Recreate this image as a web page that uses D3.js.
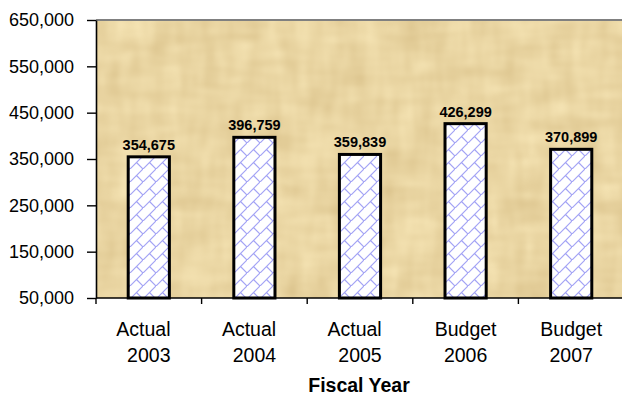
<!DOCTYPE html>
<html>
<head>
<meta charset="utf-8">
<script src="https://cdn.jsdelivr.net/npm/d3@7"></script>
<style>
  html, body { margin: 0; padding: 0; background: #fff; overflow: hidden; }
  svg { display: block; font-family: "Liberation Sans", Arial, sans-serif; }
</style>
</head>
<body>
<svg id="chart" width="622" height="397"></svg>
<script>
// Fiscal-year totals
const kinds  = ["Actual", "Actual", "Actual", "Budget", "Budget"];
const years  = ["2003", "2004", "2005", "2006", "2007"];
const values = [354675, 396759, 359839, 426299, 370899];
const yTicks = [50000, 150000, 250000, 350000, 450000, 550000, 650000];
const axisTitle = "Fiscal Year";

const categories = years.map((yr, i) => kinds[i] + " " + yr);

const W = 622, H = 397;
const plot = { left: 96, right: 624, top: 20, bottom: 298 };

const svg = d3.select("#chart");
const defs = svg.append("defs");

// Parchment texture for the plot area
const paper = defs.append("filter")
  .attr("id", "papyrus")
  .attr("x", 0).attr("y", 0).attr("width", 1).attr("height", 1)
  .attr("color-interpolation-filters", "sRGB");
paper.append("feTurbulence")
  .attr("type", "fractalNoise").attr("baseFrequency", "0.06 0.018")
  .attr("numOctaves", 2).attr("seed", 7).attr("result", "n1");
paper.append("feTurbulence")
  .attr("type", "fractalNoise").attr("baseFrequency", "0.018 0.06")
  .attr("numOctaves", 2).attr("seed", 13).attr("result", "n2");
paper.append("feComposite")
  .attr("in", "n1").attr("in2", "n2").attr("operator", "arithmetic")
  .attr("k1", 0).attr("k2", 0.5).attr("k3", 0.5).attr("k4", 0).attr("result", "n");
paper.append("feColorMatrix")
  .attr("in", "n").attr("type", "matrix")
  .attr("values",
    "0.16 0 0 0 0.835 " +
    "0.20 0 0 0 0.735 " +
    "0.24 0 0 0 0.515 " +
    "0 0 0 0 1");

// Diagonal brick fill for the bars
const brick = defs.append("pattern")
  .attr("id", "brick")
  .attr("patternUnits", "userSpaceOnUse")
  .attr("width", 13).attr("height", 13);
brick.append("rect").attr("width", 13).attr("height", 13).attr("fill", "#ffffff");
brick.append("path")
  .attr("d", "M-1,14 L14,-1 M6.5,6.5 L14,14 M-1,-1 L0,0")
  .attr("fill", "none")
  .attr("stroke", "#a3a3f5")
  .attr("stroke-width", 1.2);

// Scales
const y = d3.scaleLinear()
  .domain([yTicks[0], yTicks[yTicks.length - 1]])
  .range([plot.bottom, plot.top]);

const xSlot = d3.scaleBand()
  .domain(categories)
  .range([plot.left, plot.right])
  .padding(0);

const xBar = d3.scaleBand()
  .domain(categories)
  .range([plot.left, plot.right])
  .paddingInner(0.61)
  .paddingOuter(0.305);

// Plot area background
svg.append("rect")
  .attr("x", plot.left).attr("y", plot.top)
  .attr("width", W - plot.left).attr("height", plot.bottom - plot.top)
  .attr("fill", "#e8d3a2")
  .attr("filter", "url(#papyrus)");

svg.append("line")
  .attr("x1", plot.left).attr("x2", W)
  .attr("y1", plot.top).attr("y2", plot.top)
  .attr("stroke", "#808080").attr("stroke-width", 2);

// Bars
svg.append("g").selectAll("rect")
  .data(values)
  .join("rect")
  .attr("x", (d, i) => xBar(categories[i]))
  .attr("y", d => y(d))
  .attr("width", xBar.bandwidth())
  .attr("height", d => y(yTicks[0]) - y(d))
  .attr("fill", "url(#brick)")
  .attr("stroke", "#000")
  .attr("stroke-width", 3);

// Value labels
svg.append("g").selectAll("text")
  .data(values)
  .join("text")
  .attr("x", (d, i) => xBar(categories[i]) + xBar.bandwidth() / 2)
  .attr("y", d => y(d) - 7)
  .attr("text-anchor", "middle")
  .attr("font-size", "14.5px")
  .attr("font-weight", "bold")
  .attr("fill", "#000")
  .text(d => d3.format(",")(d));

// Y axis
const yAxis = svg.append("g")
  .attr("transform", `translate(${plot.left},0)`)
  .call(d3.axisLeft(y)
    .tickValues(yTicks)
    .tickSize(9)
    .tickSizeOuter(0)
    .tickPadding(13)
    .tickFormat(d3.format(",")));
yAxis.attr("font-family", null).attr("font-size", null);
yAxis.select(".domain").attr("stroke", "#000").attr("stroke-width", 1.6);
yAxis.selectAll(".tick line").attr("stroke", "#000").attr("stroke-width", 1.4);
yAxis.selectAll(".tick text").attr("font-size", "18px").attr("fill", "#000");

// X axis line and category dividers
const xAxis = svg.append("g");
xAxis.append("line")
  .attr("x1", plot.left).attr("x2", W)
  .attr("y1", plot.bottom).attr("y2", plot.bottom)
  .attr("stroke", "#000").attr("stroke-width", 1.6);
xAxis.selectAll("line.div")
  .data(categories)
  .join("line")
  .attr("class", "div")
  .attr("x1", d => xSlot(d)).attr("x2", d => xSlot(d))
  .attr("y1", plot.bottom).attr("y2", plot.bottom + 6)
  .attr("stroke", "#000").attr("stroke-width", 1.4);

// Category labels (two lines)
const catLabels = xAxis.selectAll("text.cat")
  .data(categories)
  .join("text")
  .attr("class", "cat")
  .attr("text-anchor", "middle")
  .attr("font-size", "19.5px")
  .attr("fill", "#000");
catLabels.append("tspan")
  .attr("x", d => xSlot(d) + xSlot.bandwidth() / 2)
  .attr("y", 336)
  .text((d, i) => kinds[i] === "Actual" ? kinds[i] + "\u00a0\u00a0" : kinds[i]);
catLabels.append("tspan")
  .attr("x", d => xSlot(d) + xSlot.bandwidth() / 2)
  .attr("y", 361.5)
  .text((d, i) => years[i]);

// Axis title
svg.append("text")
  .attr("x", (plot.left + W) / 2)
  .attr("y", 392)
  .attr("text-anchor", "middle")
  .attr("font-size", "19.5px")
  .attr("font-weight", "bold")
  .attr("fill", "#000")
  .text(axisTitle);
</script>
</body>
</html>
